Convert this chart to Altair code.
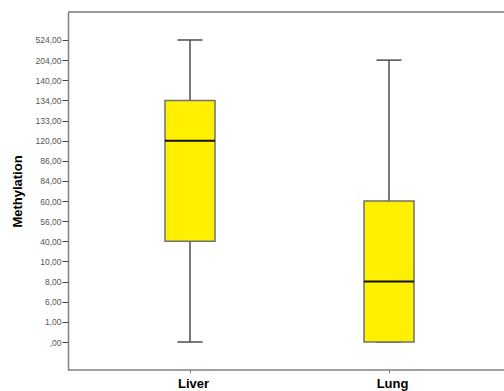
import altair as alt
import pandas as pd

# Ordinal y-axis categories (as shown on the axis)
y_ticks = [0, 1, 6, 8, 10, 40, 56, 60, 84, 86, 120, 133, 134, 140, 204, 524]
y_labels = [",00", "1,00", "6,00", "8,00", "10,00", "40,00", "56,00", "60,00",
            "84,00", "86,00", "120,00", "133,00", "134,00", "140,00", "204,00", "524,00"]

groups = ["Liver", "Lung"]
lower = [0, 0]
q1 = [40, 0]
median = [120, 8]
q3 = [134, 60]
upper = [524, 204]

pos = lambda v: y_ticks.index(v)
df = pd.DataFrame({
    "group": groups,
    "lower": [pos(v) for v in lower],
    "q1": [pos(v) for v in q1],
    "median": [pos(v) for v in median],
    "q3": [pos(v) for v in q3],
    "upper": [pos(v) for v in upper],
})

label_expr = "[" + ",".join("'" + s + "'" for s in y_labels) + "][datum.value]"

W, H = 436, 358
FONT = "Liberation Sans"

xenc = alt.X("group:N", sort=groups,
             scale=alt.Scale(type="point", range=[122, 321], padding=0),
             axis=alt.Axis(title=None, labelAngle=0, labelFont=FONT, labelFontSize=13,
                           labelFontWeight="bold", labelColor="black", labelPadding=4,
                           labelOffset=3, domain=False,
                           tickColor="#808080", tickSize=3))
yscale = alt.Scale(domain=[-1.39, 16.39], nice=False, zero=False)
yaxis = alt.Axis(values=list(range(len(y_ticks))), labelExpr=label_expr,
                 labelOverlap=False,
                 title="Methylation", titleFont=FONT, titleFontSize=13,
                 titleFontWeight="bold", titleColor="black", titlePadding=11,
                 labelFont=FONT, labelFontSize=8.5, labelColor="#555555",
                 labelPadding=1,
                 tickColor="#444444", tickSize=6, tickWidth=1,
                 domainColor="#808080", domainWidth=1.5, grid=False)


def Y(field):
    return alt.Y(field, scale=yscale, axis=yaxis, title="Methylation")


base = alt.Chart(df)

whisker = base.mark_rule(color="#4d4d4d", strokeWidth=1.5).encode(
    x=xenc, y=Y("lower:Q"), y2="upper:Q")
cap_hi = base.mark_tick(color="#4d4d4d", thickness=1.5, size=25, opacity=1).encode(
    x=xenc, y=Y("upper:Q"))
cap_lo = base.mark_tick(color="#4d4d4d", thickness=1.5, size=25, opacity=1).encode(
    x=xenc, y=Y("lower:Q"))
box = base.mark_bar(size=50, color="#FFF000", stroke="#707070", strokeWidth=1.5).encode(
    x=xenc, y=Y("q1:Q"), y2="q3:Q")
med = base.mark_tick(color="#111122", thickness=2, size=50, opacity=1).encode(
    x=xenc, y=Y("median:Q"))

frame = pd.DataFrame({"a": [0]})
top = alt.Chart(frame).mark_rule(color="#999999", strokeWidth=2).encode(
    x=alt.value(0), x2=alt.value(W), y=alt.value(0))
bottom = alt.Chart(frame).mark_rule(color="#808080", strokeWidth=1.5).encode(
    x=alt.value(0), x2=alt.value(W), y=alt.value(H))

chart = alt.layer(whisker, cap_hi, cap_lo, box, med, top, bottom).properties(
    width=W, height=H,
    padding={"left": 68, "top": 12, "right": 0, "bottom": 21},
    autosize=alt.AutoSizeParams(type="none"),
    background="white",
).configure_view(stroke=None)

chart.save("out.html", embed_options={"renderer": "svg", "actions": False})
